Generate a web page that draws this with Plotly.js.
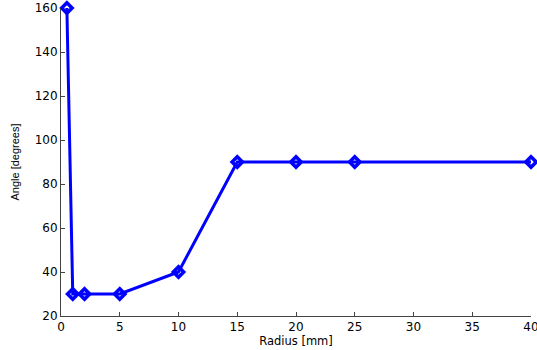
<!DOCTYPE html>
<html><head><meta charset="utf-8">
<script src="https://cdn.plot.ly/plotly-3.0.1.min.js"></script>
<style>html,body{margin:0;padding:0;background:#fff;}#c{width:537px;height:350px;}</style>
</head><body><div id="c"></div>
<script>
const radius = [0.5, 1, 2, 5, 10, 15, 20, 25, 40];
const angle = [160, 30, 30, 30, 40, 90, 90, 90, 90];
const xTicks = [0, 5, 10, 15, 20, 25, 30, 35, 40];
const yTicks = [20, 40, 60, 80, 100, 120, 140, 160];

const trace = {
  x: radius, y: angle, type: 'scatter', mode: 'lines+markers',
  line: {color: '#0000ff', width: 3},
  marker: {symbol: 'diamond-open', size: 8, color: '#0000ff', line: {color: '#0000ff', width: 3.5}},
  cliponaxis: false
};
const tickFont = {family: 'DejaVu Sans, sans-serif', size: 12, color: '#000'};
const layout = {
  width: 537, height: 350,
  margin: {l: 61, r: 6, t: 8, b: 34},
  paper_bgcolor: '#fff', plot_bgcolor: '#fff',
  showlegend: false,
  xaxis: {
    range: [0, 40], tickvals: xTicks, ticktext: xTicks.map(String), ticklabeloverflow: 'allow',
    ticks: 'inside', ticklen: 4, tickcolor: '#444', showline: true, linecolor: '#444', linewidth: 1,
    showgrid: false, zeroline: false, tickfont: tickFont,
    title: {text: 'Radius [mm]', font: {family: 'DejaVu Sans, sans-serif', size: 11.5, color: '#000'}, standoff: 3}
  },
  yaxis: {
    range: [20, 160], tickvals: yTicks, ticktext: yTicks.map(String), ticklabeloverflow: 'allow',
    ticks: 'inside', ticklen: 4, tickcolor: '#444', showline: true, linecolor: '#444', linewidth: 1,
    showgrid: false, zeroline: false, tickfont: tickFont,
    title: {text: 'Angle [degrees]', font: {family: 'Liberation Sans, Arial, sans-serif', size: 11, color: '#000'}, standoff: 12}
  }
};
Plotly.newPlot('c', [trace], layout, {staticPlot: true, displayModeBar: false});
</script></body></html>
